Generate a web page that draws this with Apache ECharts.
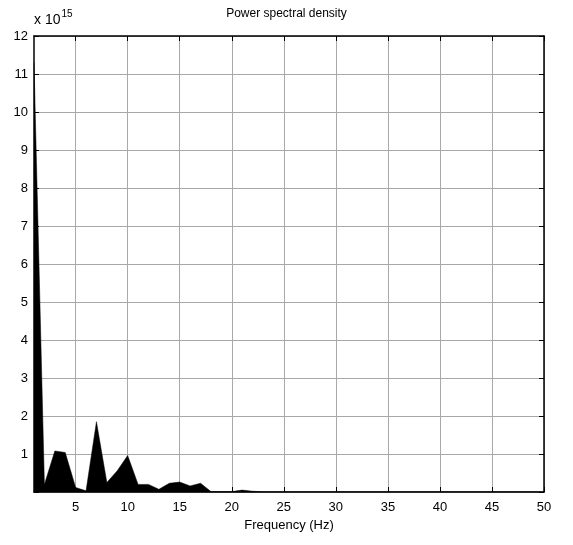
<!DOCTYPE html>
<html>
<head>
<meta charset="utf-8">
<script src="https://cdn.jsdelivr.net/npm/echarts@6/dist/echarts.min.js"></script>
<style>
html,body{margin:0;padding:0;background:#fff;}
#c{width:573px;height:545px;}
</style>
</head>
<body>
<div id="c"></div>
<script>
// Frequency bins (Hz)
const frequencies = [1,2,3,4,5,6,7,8,9,10,11,12,13,14,15,16,17,18,19,20,21,22,23,24,25,26,27,28,29,30,31,32,33,34,35,36,37,38,39,40,41,42,43,44,45,46,47,48,49,50];
// Power spectral density, in units of 1e15
const psd = [11.3,0.2,1.08,1.04,0.12,0.03,1.85,0.25,0.56,0.96,0.2,0.2,0.07,0.23,0.26,0.16,0.23,0.01,0.01,0.01,0.05,0.02,0.005,0.005,0.005,0.005,0.005,0.005,0.005,0.005,0.005,0.005,0.005,0.005,0.005,0.005,0.005,0.005,0.005,0.005,0.005,0.005,0.005,0.005,0.005,0.005,0.005,0.005,0.005,0.005];
const xTicks = [5,10,15,20,25,30,35,40,45,50];
const yTicks = [0,1,2,3,4,5,6,7,8,9,10,11,12];

const FONT = 'Liberation Sans, Arial, sans-serif';
const chart = echarts.init(document.getElementById('c'), null, {renderer:'canvas'});

const xCommon = {
  type:'value', min:1, max:50,
  axisLine:{show:true, onZero:false, lineStyle:{color:'#000', width:1.5}},
  axisTick:{show:true, inside:true, length:5, customValues:xTicks, lineStyle:{color:'#000'}},
};
const yCommon = {
  type:'value', min:0, max:12, interval:1,
  axisLine:{show:true, onZero:false, lineStyle:{color:'#000', width:1.5}},
  axisTick:{show:true, inside:true, length:5, lineStyle:{color:'#000'}},
};

chart.setOption({
  animation:false,
  backgroundColor:'#fff',
  title:{
    text:'Power spectral density', left:'center', top:3,
    textStyle:{fontFamily:FONT, fontSize:12, fontWeight:'normal', color:'#000'}
  },
  grid:{left:34, top:36, right:29, bottom:53, containLabel:false},
  xAxis:[
    Object.assign({}, xCommon, {
      position:'bottom',
      name:'Frequency (Hz)', nameLocation:'middle', nameGap:27,
      nameTextStyle:{fontFamily:FONT, fontSize:13, color:'#000'},
      axisLabel:{show:true, customValues:xTicks, margin:9, fontFamily:FONT, fontSize:13, color:'#000'},
      splitLine:{show:true, lineStyle:{color:'#a8a8a8', width:1}}
    }),
    Object.assign({}, xCommon, {
      position:'top',
      axisLabel:{show:false},
      splitLine:{show:false}
    })
  ],
  yAxis:[
    Object.assign({}, yCommon, {
      position:'left',
      axisLabel:{show:true, margin:6, fontFamily:FONT, fontSize:13, color:'#000',
        formatter:function(v){ return v===0 ? '' : String(v); }},
      splitLine:{show:true, lineStyle:{color:'#a8a8a8', width:1}}
    }),
    Object.assign({}, yCommon, {
      position:'right',
      axisLabel:{show:false},
      splitLine:{show:false}
    })
  ],
  graphic:[{
    type:'text', left:34, top:9,
    style:{
      text:'{a|x 10}{b|15}',
      rich:{
        a:{fontFamily:FONT, fontSize:14, fill:'#000', verticalAlign:'bottom'},
        b:{fontFamily:FONT, fontSize:10, fill:'#000', verticalAlign:'top', padding:[0,0,8,1]}
      }
    }
  }],
  series:[{
    type:'line',
    xAxisIndex:0, yAxisIndex:0,
    data: frequencies.map((f,i)=>[f, psd[i]]),
    showSymbol:false,
    lineStyle:{color:'#000', width:0.5},
    areaStyle:{color:'#000', opacity:1},
    z:1
  }]
});
</script>
</body>
</html>
